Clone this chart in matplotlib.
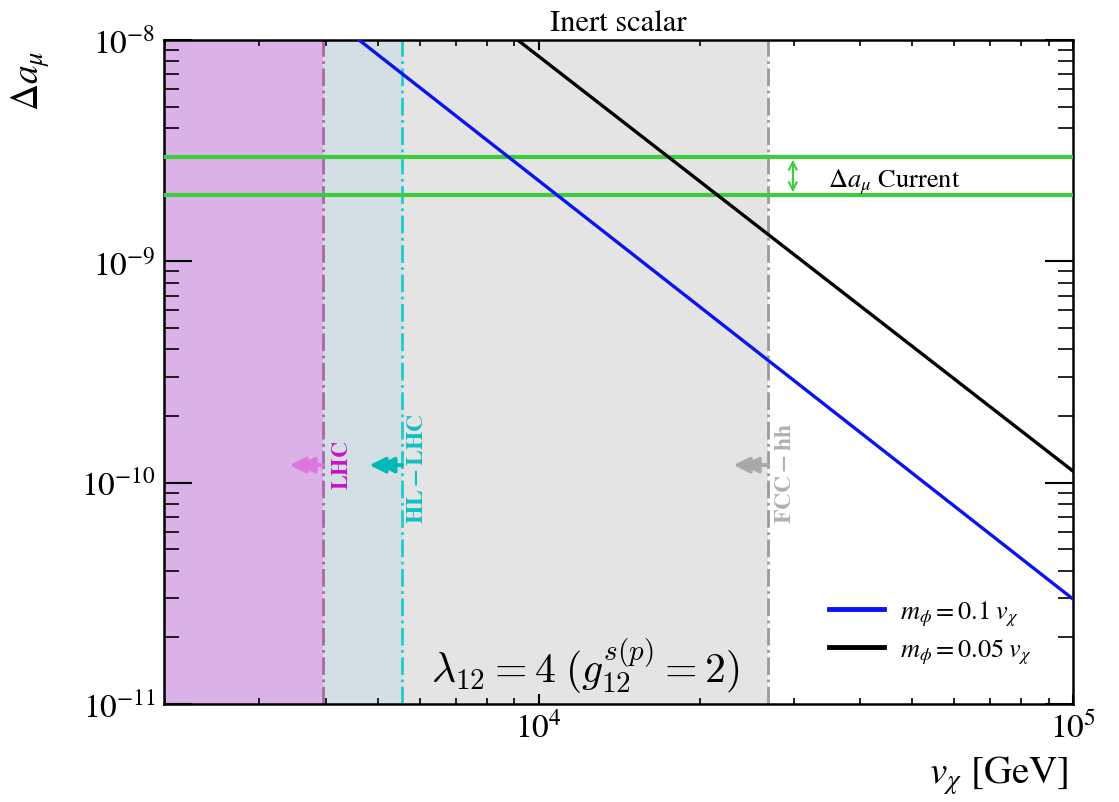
import numpy as np
import matplotlib
matplotlib.use("Agg")
import matplotlib.pyplot as plt
from matplotlib.ticker import NullFormatter, FixedLocator, LogFormatterMathtext

plt.rcParams['font.family'] = ['STIXGeneral', 'DejaVu Serif']
plt.rcParams['mathtext.fontset'] = 'stix'

# ---- data ----
x_min, x_max = 1990.0, 1.0e5
y_min, y_max = 1.0e-11, 1.0e-8
x_major = [1.0e4, 1.0e5]
y_major = [1.0e-11, 1.0e-10, 1.0e-9, 1.0e-8]

# bounds (GeV)
lhc_x = 3945.0
hllhc_x = 5550.0
fcc_x = 26880.0

# current Delta a_mu band
amu_low = 2.0e-9
amu_high = 2.95e-9

# curves
blue_x = [4612.0, 1.0e5]
blue_y = [1.0e-8, 2.98e-11]
black_x = [9135.0, 1.0e5]
black_y = [1.0e-8, 1.128e-10]

labels = [r'$m_\phi = 0.1\; v_\chi$', r'$m_\phi = 0.05\; v_\chi$']

# arrows: head positions
arrow_y = 1.2e-10
arrow_heads = [3420.0, 4826.0, 23180.0]
arrow_tails = [3945.0, 5550.0, 26880.0]

fig = plt.figure(figsize=(11.19, 8.03), dpi=100)
ax = fig.add_axes([164/1119, 1 - 705/803, (1073-164)/1119, (705-41)/803])
ax.set_xscale('log')
ax.set_yscale('log')
ax.set_xlim(x_min, x_max)
ax.set_ylim(y_min, y_max)

# shaded regions
ax.axvspan(x_min, lhc_x, color='#dab2e7', lw=0, zorder=0)
ax.axvspan(lhc_x, hllhc_x, color='#d3dfe5', lw=0, zorder=0)
ax.axvspan(hllhc_x, fcc_x, color='#e4e4e4', lw=0, zorder=0)

# vertical lines
ax.axvline(lhc_x, color='#a868a8', ls='-.', lw=2.0, zorder=2)
ax.axvline(hllhc_x, color='#1fcccc', ls='-.', lw=2.0, zorder=2)
ax.axvline(fcc_x, color='#9a9a9a', ls='-.', lw=2.0, zorder=2)

# green band lines
ax.axhline(amu_high, color='#3ccc3c', lw=3.0, zorder=3)
ax.axhline(amu_low, color='#3ccc3c', lw=3.0, zorder=3)

# curves
ax.plot(blue_x, blue_y, color='#0a14f0', lw=2.4, label=labels[0], zorder=4)
ax.plot(black_x, black_y, color='black', lw=2.4, label=labels[1], zorder=4)

# arrows
arrow_cols = ['#dd77dd', '#00b8b8', '#a8a8a8']
for xh, xt, c in zip(arrow_heads, arrow_tails, arrow_cols):
    step = 10 ** (9.0 / 534.0)
    ax.annotate('', xy=(xh, arrow_y), xytext=(xt, arrow_y),
                arrowprops=dict(arrowstyle='-|>', color=c, lw=2.5,
                                mutation_scale=24, shrinkA=0, shrinkB=0),
                zorder=5)
    ax.annotate('', xy=(xh * step, arrow_y), xytext=(xt, arrow_y),
                arrowprops=dict(arrowstyle='-|>', color=c, lw=2.5,
                                mutation_scale=24, shrinkA=0, shrinkB=0),
                zorder=5)

# vertical labels
ax.text(4295, 1.21e-10, r'$\mathbf{LHC}$', color='#cc10cc', rotation=90,
        ha='center', va='center', fontsize=16)
ax.text(5934, 1.17e-10, r'$\mathbf{HL-LHC}$', color='#10c0c0', rotation=90,
        ha='center', va='center', fontsize=17)
ax.text(29000, 1.11e-10, r'$\mathbf{FCC-hh}$', color='#b0b0b0', rotation=90,
        ha='center', va='center', fontsize=17)

# Delta a_mu current annotation
ax.annotate('', xy=(29910, 2.88e-9), xytext=(29910, 2.05e-9),
            arrowprops=dict(arrowstyle='<->', color='#3ccc3c', lw=1.5,
                            mutation_scale=14, shrinkA=0, shrinkB=0))
ax.text(34800, 2.31e-9, r'$\Delta a_\mu$ Current', fontsize=19,
        ha='left', va='center')

# lambda text
ax.text(0.463, 0.058, r'$\lambda_{12} = 4\;(g_{12}^{s(p)} = 2)$',
        transform=ax.transAxes, fontsize=30, ha='center', va='center',
        math_fontfamily='cm')

# legend
leg = ax.legend(loc='center', bbox_to_anchor=(0.843, 0.108), frameon=False,
                fontsize=19, handlelength=2.1, handletextpad=0.6,
                labelspacing=0.35)
for line in leg.get_lines():
    line.set_linewidth(3.5)

# title and labels
ax.set_title('Inert scalar', fontsize=22, pad=7)
ax.set_ylabel(r'$\Delta a_\mu$', fontsize=27)
ax.yaxis.set_label_coords(-0.123, 0.94)
ax.set_xlabel(r'$v_\chi$ [GeV]', fontsize=28)
ax.xaxis.set_label_coords(0.995, -0.075)
ax.xaxis.label.set_ha('right')

# ticks
ax.xaxis.set_major_locator(FixedLocator(x_major))
ax.yaxis.set_major_locator(FixedLocator(y_major))
ax.xaxis.set_major_formatter(LogFormatterMathtext())
ax.yaxis.set_major_formatter(LogFormatterMathtext())
ax.tick_params(axis='y', which='major', direction='in', length=20, width=1.5,
               labelsize=24, left=True, right=True, pad=6)
ax.tick_params(axis='y', which='minor', direction='in', length=10.5, width=1.2,
               left=True, right=True)
ax.tick_params(axis='x', which='major', direction='in', length=7.5, width=1.5,
               labelsize=24, top=True, bottom=True, pad=5)
ax.tick_params(axis='x', which='minor', direction='in', length=4, width=1.2,
               top=True, bottom=True)
ax.xaxis.set_minor_formatter(NullFormatter())
ax.yaxis.set_minor_formatter(NullFormatter())
for sp in ax.spines.values():
    sp.set_linewidth(1.8)

fig.savefig('out.png', dpi=100)
